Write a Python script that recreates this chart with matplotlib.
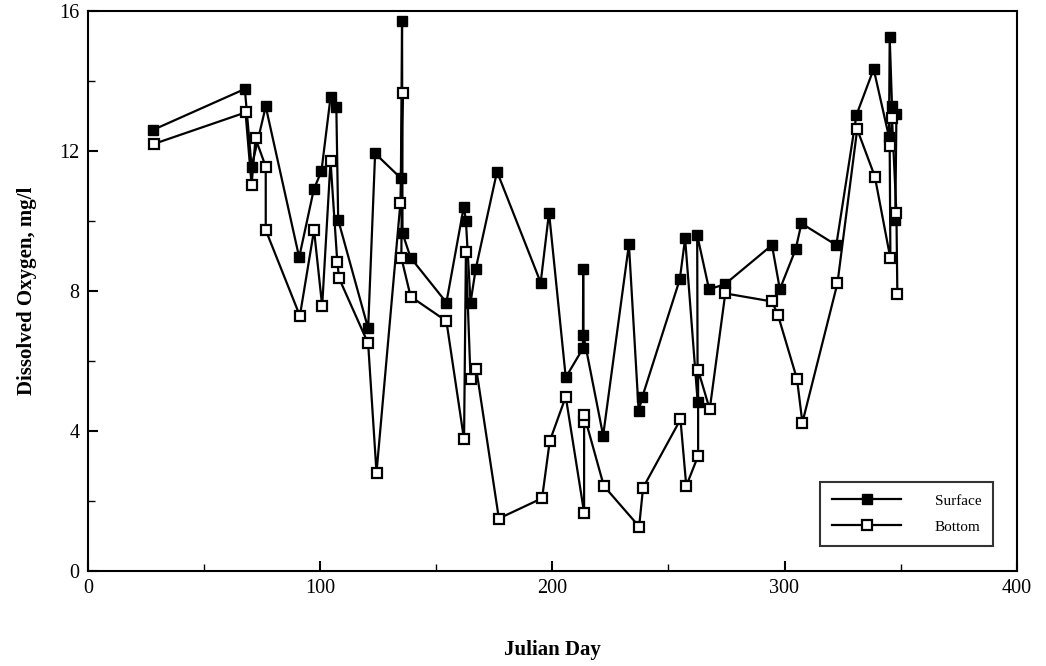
import matplotlib
matplotlib.use('Agg')
import matplotlib.pyplot as plt
from matplotlib.ticker import MultipleLocator

plt.rcParams['font.family'] = ['Liberation Serif', 'DejaVu Serif']

# surface readings, in sampling order
surf_day = [28, 67.6, 70.5, 76.6, 91, 97.3, 100.6, 104.5, 107, 107.8,
            120.7, 123.7, 134.8, 135.3, 135.5, 139, 154.4, 161.9, 162.8, 164.8,
            167, 176.2, 195, 198.6, 205.8, 213.2, 213.3, 213.4, 221.9, 233,
            237.2, 238.8, 254.9, 257.2, 262.6, 262.4, 267.5, 274.3, 294.6, 298,
            304.8, 307.3, 322.3, 331, 338.4, 345, 345.3, 346.3, 348.2, 347.7]
surf_do = [12.6, 13.77, 11.55, 13.27, 8.96, 10.9, 11.43, 13.53, 13.25, 10.03,
           6.93, 11.93, 11.22, 15.7, 9.65, 8.95, 7.67, 10.41, 10.01, 7.67,
           8.62, 11.41, 8.24, 10.24, 5.53, 6.36, 8.62, 6.74, 3.87, 9.33,
           4.57, 4.98, 8.33, 9.5, 4.84, 9.6, 8.05, 8.19, 9.31, 8.05,
           9.19, 9.93, 9.31, 13.03, 14.34, 12.4, 15.25, 13.29, 13.05, 10.03]

# bottom readings
bot_day = [28.4, 67.9, 70.5, 72.2, 76.6, 76.6, 91.3, 97.4, 100.9, 104.5,
           107.4, 108.2, 120.7, 124.3, 134.6, 135.5, 135, 139, 154.4, 162,
           162.8, 164.8, 167.3, 177, 195.6, 198.9, 205.8, 213.7, 213.7, 213.7,
           222.2, 237.4, 239.1, 255.2, 257.7, 262.8, 262.8, 267.8, 274.5, 294.6,
           297.2, 305.4, 307.7, 322.8, 331.3, 338.9, 345.6, 345.3, 346.3, 348.2,
           348.6]
bot_do = [12.2, 13.1, 11.03, 12.36, 11.55, 9.74, 7.29, 9.74, 7.57, 11.71,
          8.84, 8.36, 6.5, 2.81, 10.52, 13.65, 8.95, 7.84, 7.14, 3.76,
          9.1, 5.48, 5.76, 1.5, 2.08, 3.71, 4.98, 1.67, 4.27, 4.46,
          2.43, 1.27, 2.38, 4.33, 2.43, 3.29, 5.74, 4.62, 7.93, 7.7,
          7.31, 5.48, 4.24, 8.22, 12.62, 11.27, 8.93, 12.14, 12.93, 10.22,
          7.91]

fig = plt.figure(figsize=(10.46, 6.66), dpi=100)
ax = fig.add_axes([0.084, 0.1426, 0.888, 0.841])

ax.plot(surf_day, surf_do, '-s', color='black', lw=1.6, ms=7.5,
        mfc='black', mec='black', label='Surface')
ax.plot(bot_day, bot_do, '-s', color='black', lw=1.6, ms=7.5,
        mfc='white', mec='black', mew=1.6, label='Bottom')

ax.set_xlim(0, 400)
ax.set_ylim(0, 16)
ax.xaxis.set_major_locator(MultipleLocator(100))
ax.xaxis.set_minor_locator(MultipleLocator(50))
ax.yaxis.set_major_locator(MultipleLocator(4))
ax.yaxis.set_minor_locator(MultipleLocator(2))
ax.tick_params(which='both', direction='in', labelsize=14.5)
ax.tick_params(which='major', length=7, width=1.5, pad=6)
ax.tick_params(which='minor', length=5, width=1)
for s in ax.spines.values():
    s.set_linewidth(1.5)

ax.set_xlabel('Julian Day', fontsize=15, fontweight='bold', labelpad=30)
ax.set_ylabel('Dissolved Oxygen, mg/l', fontsize=15, fontweight='bold', labelpad=16)

leg = ax.legend(loc='lower right', bbox_to_anchor=(0.975, 0.045), fontsize=11,
                frameon=True, fancybox=False, edgecolor='black',
                handlelength=4.5, borderpad=0.8, labelspacing=0.8,
                handletextpad=2.2, borderaxespad=0)
leg.get_frame().set_linewidth(1.5)

fig.savefig('out.png', dpi=100)
